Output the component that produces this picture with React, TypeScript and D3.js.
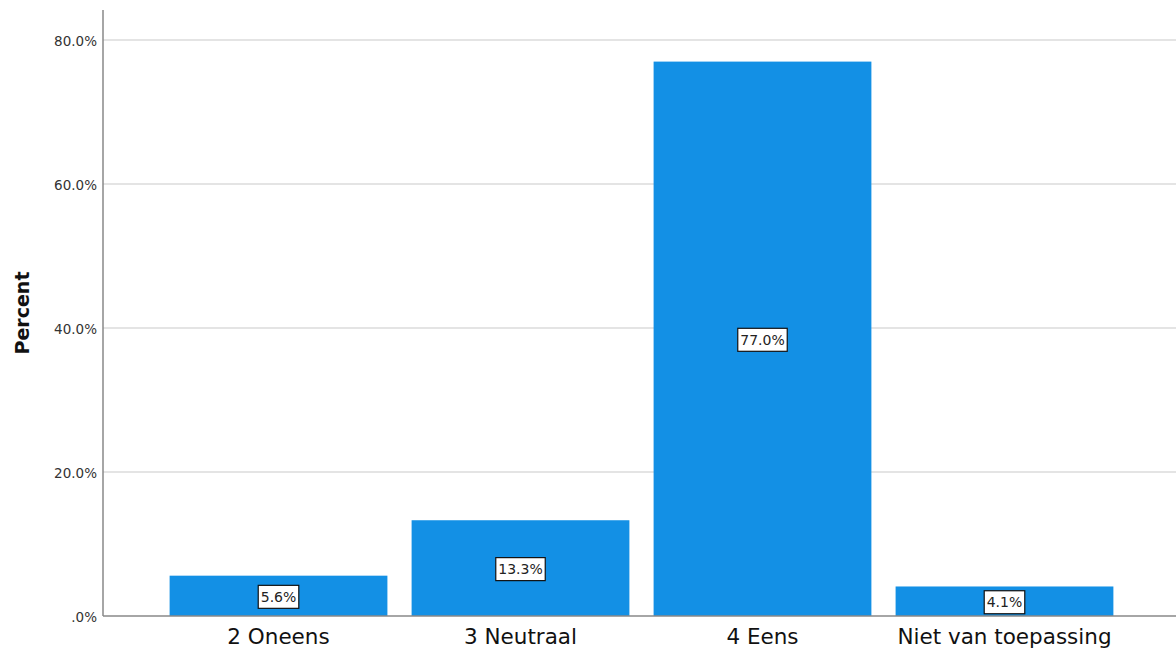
import React from "react";
import * as d3 from "d3";

// Response categories and their share of respondents (percent)
const categories = ["2 Oneens", "3 Neutraal", "4 Eens", "Niet van toepassing"];
const percents = [5.6, 13.3, 77.0, 4.1];
const yTicks = [0, 20, 40, 60, 80];

const W = 1176;
const H = 651;
const margin = { left: 103, top: 10 };
const BAR_COLOR = "#1390e5";
const LABEL_FONT = 14;

const fmtTick = (v: number) => (v === 0 ? ".0%" : `${v.toFixed(1)}%`);
const fmtVal = (v: number) => `${v.toFixed(1)}%`;

// rough advance widths (em) for the glyphs used in value labels
const glyphEm = (ch: string) => (ch === "." ? 0.318 : ch === "%" ? 0.95 : 0.636);
const textWidth = (s: string, size: number) =>
  s.split("").reduce((acc, ch) => acc + glyphEm(ch), 0) * size;

export default function App() {
  const x = d3
    .scaleBand<string>()
    .domain(categories)
    .range([margin.left + 2, W + 2])
    .paddingInner(0.1)
    .paddingOuter(0.267);

  const y = d3.scaleLinear().domain([0, 80]).range([616, 40]);

  const rows = categories.map((c, i) => ({ c, v: percents[i] }));

  return (
    <svg
      width={W}
      height={H}
      style={{ position: "absolute", left: 0, top: 0, background: "#fff" }}
      fontFamily="'DejaVu Sans', sans-serif"
    >
      {/* horizontal grid lines */}
      {yTicks
        .filter((t) => t > 0)
        .map((t) => (
          <line
            key={`g${t}`}
            x1={margin.left}
            x2={W}
            y1={y(t)}
            y2={y(t)}
            stroke="#c9c9c9"
            strokeWidth={1.2}
          />
        ))}

      {/* y tick labels */}
      {yTicks.map((t) => (
        <text
          key={`t${t}`}
          x={97}
          y={y(t) + 2}
          textAnchor="end"
          dominantBaseline="middle"
          fontSize={13.5}
          fill="#333"
        >
          {fmtTick(t)}
        </text>
      ))}

      {/* bars */}
      {rows.map((r) => (
        <rect
          key={r.c}
          x={x(r.c)}
          y={y(r.v)}
          width={x.bandwidth()}
          height={y(0) - y(r.v)}
          fill={BAR_COLOR}
        />
      ))}

      {/* value labels in boxes */}
      {rows.map((r) => {
        const cx = (x(r.c) as number) + x.bandwidth() / 2;
        const cy = (y(r.v) + y(0)) / 2 + 1;
        const label = fmtVal(r.v);
        const bw = textWidth(label, LABEL_FONT) + 5;
        const bh = 23;
        return (
          <g key={`l${r.c}`}>
            <rect
              x={cx - bw / 2}
              y={cy - bh / 2}
              width={bw}
              height={bh}
              fill="#fff"
              stroke="#111"
              strokeWidth={1.2}
            />
            <text
              x={cx}
              y={cy + 1}
              textAnchor="middle"
              dominantBaseline="middle"
              fontSize={LABEL_FONT}
              fill="#222"
            >
              {label}
            </text>
          </g>
        );
      })}

      {/* axes */}
      <line x1={margin.left} x2={margin.left} y1={margin.top} y2={y(0)} stroke="#888" strokeWidth={1.5} />
      <line x1={margin.left} x2={W} y1={y(0)} y2={y(0)} stroke="#888" strokeWidth={1.5} />

      {/* x category labels */}
      {categories.map((c) => (
        <text
          key={`x${c}`}
          x={(x(c) as number) + x.bandwidth() / 2}
          y={644}
          textAnchor="middle"
          fontSize={21.5}
          fill="#111"
        >
          {c}
        </text>
      ))}

      {/* y axis title */}
      <text
        transform={`translate(29, ${(margin.top + y(0)) / 2}) rotate(-90)`}
        textAnchor="middle"
        fontSize={19}
        fontWeight="bold"
        fill="#111"
      >
        Percent
      </text>
    </svg>
  );
}
